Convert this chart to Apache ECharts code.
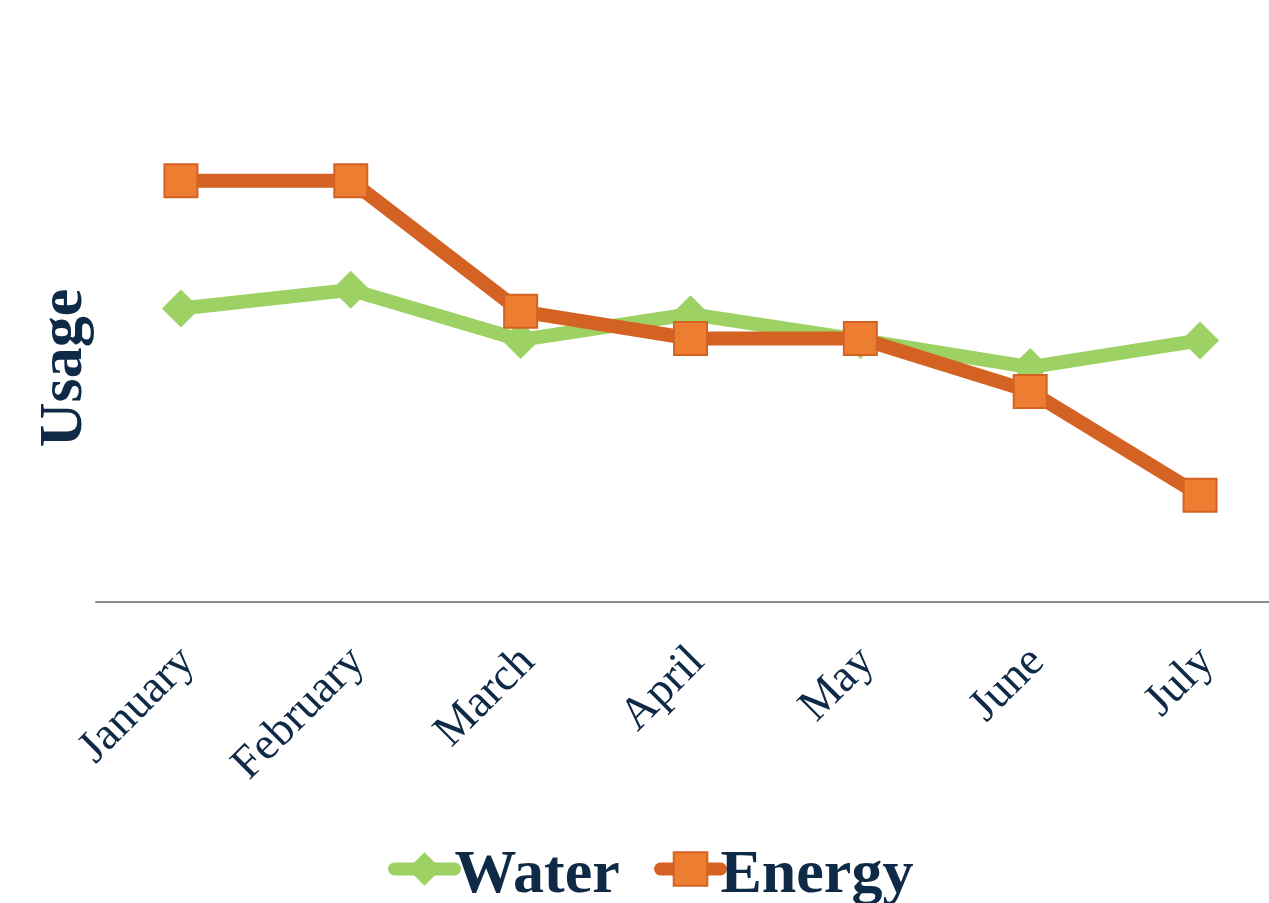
<!DOCTYPE html>
<html>
<head>
<meta charset="utf-8">
<script src="https://cdn.jsdelivr.net/npm/echarts@6/dist/echarts.min.js"></script>
<style>
html,body{margin:0;padding:0;background:#fff;}
#chart{width:1269px;height:903px;}
</style>
</head>
<body>
<div id="chart"></div>
<script>
const categories = ['January','February','March','April','May','June','July'];
const waterValues = [62.7, 66.7, 56.0, 61.5, 56.0, 50.2, 55.9];
const energyValues = [90.0, 90.0, 62.1, 56.3, 56.3, 45.0, 22.8];
const seriesNames = ['Water', 'Energy'];
const yAxisTitle = 'Usage';

const textColor = '#0e2a47';
const serif = '"Liberation Serif", "Times New Roman", serif';

const chart = echarts.init(document.getElementById('chart'));
chart.setOption({
  animation: false,
  backgroundColor: '#ffffff',
  grid: { left: 96, width: 1189, top: 134, bottom: 301, containLabel: false, outerBoundsMode: 'none' },
  legend: {
    data: seriesNames,
    left: 383,
    top: 840,
    itemWidth: 60,
    itemHeight: 42,
    itemGap: 34,
    lineStyle: { width: 13, cap: 'round' },
    formatter: function (name) { return '{t|' + name + '}{e| }'; },
    textStyle: {
      fontFamily: serif, fontWeight: 'bold', fontSize: 62, color: textColor, padding: [0,0,0,-5],
      rich: {
        t: { fontFamily: serif, fontWeight: 'bold', fontSize: 62, color: textColor, lineHeight: 62, verticalAlign: 'bottom' },
        e: { fontSize: 1, lineHeight: 76 }
      }
    }
  },
  xAxis: {
    type: 'category',
    data: categories,
    boundaryGap: true,
    axisLine: { show: true, lineStyle: { color: '#8c8c8c', width: 2 } },
    axisTick: { show: false },
    axisLabel: { rotate: 45, fontFamily: serif, fontSize: 46, color: textColor, margin: 60, interval: 0, padding: [0, -10, 0, 0] }
  },
  yAxis: {
    type: 'value',
    min: 0,
    max: 100,
    name: yAxisTitle,
    nameLocation: 'middle',
    nameGap: 0,
    nameTextStyle: { fontFamily: serif, fontWeight: 'bold', fontSize: 62, color: textColor },
    axisLine: { show: false },
    axisTick: { show: false },
    axisLabel: { show: false },
    splitLine: { show: false }
  },
  series: [
    {
      name: 'Water',
      type: 'line',
      data: waterValues,
      symbol: 'diamond',
      symbolSize: 38,
      lineStyle: { color: '#9dd163', width: 14 },
      itemStyle: { color: '#9dd163' },
      z: 2
    },
    {
      name: 'Energy',
      type: 'line',
      data: energyValues,
      symbol: 'rect',
      symbolSize: 33,
      lineStyle: { color: '#d46222', width: 14 },
      itemStyle: { color: '#ed7d31', borderColor: '#d46222', borderWidth: 2 },
      z: 3
    }
  ]
});
</script>
</body>
</html>
